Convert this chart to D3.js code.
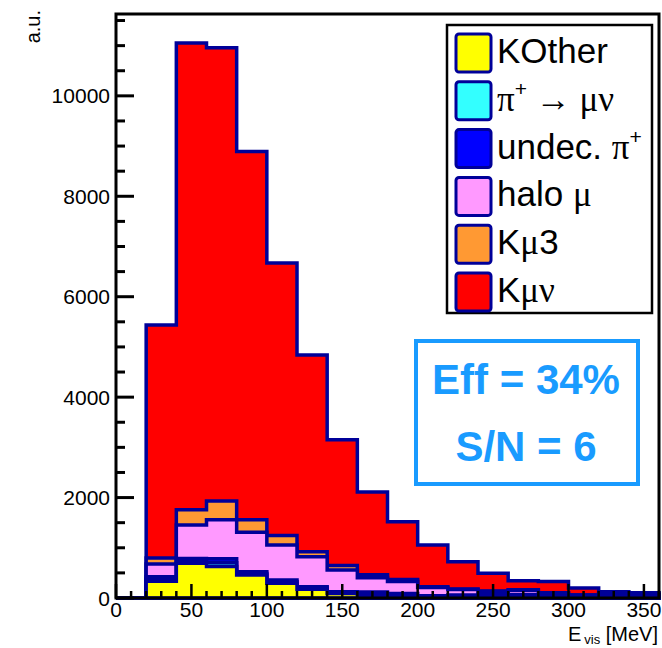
<!DOCTYPE html>
<html>
<head>
<meta charset="utf-8">
<script src="https://cdn.jsdelivr.net/npm/d3@7"></script>
<style>
  body { margin: 0; background: #fff; }
  svg { display: block; }
</style>
</head>
<body>
<svg id="chart" width="662" height="648"></svg>
<script>
// Visible-energy spectrum, 20 MeV bins, stacked by event category
const binLow = [0, 20, 40, 60, 80, 100, 120, 140, 160, 180, 200, 220, 240, 260, 280, 300, 320, 340];
const binWidth = 20;

const kOther  = [0, 334, 692, 626, 459, 294, 174, 90, 25, 8, 3, 3, 3, 2, 2, 1, 1, 1];
const piMuNu  = [0, 45, 48, 78, 30, 30, 25, 15, 40, 35, 20, 25, 30, 30, 25, 20, 25, 25];
const undecPi = [0, 44, 48, 78, 33, 33, 25, 20, 55, 49, 22, 30, 37, 38, 30, 25, 30, 30];
const haloMu  = [0, 253, 664, 774, 788, 700, 598, 435, 281, 235, 162, 113, 60, 85, 43, 12, 20, 15];
const kMu3    = [0, 120, 306, 378, 246, 186, 100, 85, 64, 43, 17, 7, 9, 10, 5, 2, 4, 4];
const kMuNu   = [0, 4643, 9295, 9026, 7334, 5427, 3918, 2505, 1645, 1150, 831, 545, 353, 180, 224, 140, 45, 30];

const seriesKeys   = ["kOther", "piMuNu", "undecPi", "haloMu", "kMu3", "kMuNu"];
const seriesColors = ["#ffff00", "#33ffff", "#0000ff", "#ff99ff", "#ff9933", "#ff0000"];

const xTickLabels = [0, 50, 100, 150, 200, 250, 300, 350];
const yTickLabels = [0, 2000, 4000, 6000, 8000, 10000];

const effText = "Eff = 34%";
const snText  = "S/N = 6";

const FONT = "'Liberation Sans', Arial, Helvetica, sans-serif";
const GREEK = "'Liberation Serif', 'DejaVu Serif', serif";
const OUTLINE = "#000099";
const INFO = "#199bff";

const svg = d3.select("#chart");

const x = d3.scaleLinear().domain([0, 360]).range([116, 659]);
const y = d3.scaleLinear().domain([0, 11630]).range([598, 14]);

// Stack the categories bin by bin
const rows = binLow.map((lo, i) => ({
  lo,
  kOther: kOther[i], piMuNu: piMuNu[i], undecPi: undecPi[i],
  haloMu: haloMu[i], kMu3: kMu3[i], kMuNu: kMuNu[i]
}));
const layers = d3.stack().keys(seriesKeys)(rows);

const line = d3.line();

// Each cumulative histogram is drawn from zero, topmost first
const plot = svg.append("g");
layers.slice().reverse().forEach(layer => {
  const pts = [[x(0), y(0)]];
  layer.forEach(d => {
    pts.push([x(d.data.lo), y(d[1])]);
    pts.push([x(d.data.lo + binWidth), y(d[1])]);
  });
  pts.push([x(360), y(0)]);
  plot.append("path")
    .attr("d", line(pts) + "Z")
    .attr("fill", seriesColors[layer.index])
    .attr("stroke", OUTLINE)
    .attr("stroke-width", 3.5)
    .attr("stroke-linejoin", "miter");
});

// Frame
svg.append("rect")
  .attr("x", x(0)).attr("y", y.range()[1])
  .attr("width", x(360) - x(0)).attr("height", y(0) - y.range()[1])
  .attr("fill", "none").attr("stroke", "#000").attr("stroke-width", 3);

// X axis: ticks every 10, labelled every 50, pointing inward
const xAxis = svg.append("g");
d3.range(0, 361, 10).forEach(v => {
  const major = v % 50 === 0;
  xAxis.append("line")
    .attr("x1", x(v)).attr("x2", x(v))
    .attr("y1", y(0)).attr("y2", y(0) - (major ? 14 : 7))
    .attr("stroke", "#000").attr("stroke-width", 2.5);
});
xAxis.selectAll("text.xl").data(xTickLabels).join("text")
  .attr("class", "xl")
  .attr("x", d => x(d)).attr("y", 617)
  .attr("text-anchor", "middle")
  .attr("font-family", FONT).attr("font-size", 21)
  .text(d => d);

// Y axis: ticks every 500, labelled every 2000
const yAxis = svg.append("g");
d3.range(0, 11501, 500).forEach(v => {
  const major = v % 2000 === 0;
  yAxis.append("line")
    .attr("x1", x(0)).attr("x2", x(0) + (major ? 18 : 9))
    .attr("y1", y(v)).attr("y2", y(v))
    .attr("stroke", "#000").attr("stroke-width", 3);
});
yAxis.selectAll("text.yl").data(yTickLabels).join("text")
  .attr("class", "yl")
  .attr("x", 110).attr("y", d => y(d))
  .attr("dy", "0.36em")
  .attr("text-anchor", "end")
  .attr("font-family", FONT).attr("font-size", 21)
  .text(d => d);

// Axis titles
svg.append("text")
  .attr("transform", "translate(40,10) rotate(-90)")
  .attr("text-anchor", "end")
  .attr("font-family", FONT).attr("font-size", 20)
  .text("a.u.");

const xt = svg.append("text")
  .attr("x", 658).attr("y", 641)
  .attr("text-anchor", "end")
  .attr("font-family", FONT).attr("font-size", 20);
xt.append("tspan").text("E");
xt.append("tspan").attr("font-size", 13).attr("dy", 3).attr("dx", 3).text("vis");
xt.append("tspan").attr("dy", -3).text(" [MeV]");

// Legend
const legend = svg.append("g");
legend.append("rect")
  .attr("x", 447).attr("y", 25).attr("width", 205).attr("height", 288)
  .attr("fill", "#fff").attr("stroke", "#000").attr("stroke-width", 2.5);

const legendLabels = [
  [["KOther"]],
  [["π", "g"], ["+", "sup"], [" → ", "g"], ["μν", "g"]],
  [["undec. "], ["π", "g"], ["+", "sup"]],
  [["halo "], ["μ", "g"]],
  [["K"], ["μ", "g"], ["3"]],
  [["K"], ["μν", "g"]]
];

legendLabels.forEach((parts, i) => {
  const cy = 53 + i * 47.8;
  legend.append("rect")
    .attr("x", 456).attr("y", cy - 19).attr("width", 35).attr("height", 38)
    .attr("rx", 3).attr("ry", 3)
    .attr("fill", seriesColors[i]).attr("stroke", OUTLINE).attr("stroke-width", 3);
  const t = legend.append("text")
    .attr("x", 497).attr("y", cy + 10)
    .attr("font-family", FONT).attr("font-size", 35);
  let raised = false;
  parts.forEach(([s, kind]) => {
    const ts = t.append("tspan").text(s);
    if (kind === "g") ts.attr("font-family", GREEK);
    if (kind === "sup") {
      ts.attr("font-size", 21).attr("dy", -15);
      raised = true;
    } else if (raised) {
      ts.attr("dy", 15);
      raised = false;
    }
  });
});

// Efficiency / signal-to-noise box
svg.append("rect")
  .attr("x", 416).attr("y", 341).attr("width", 222).attr("height", 143)
  .attr("fill", "#fff").attr("stroke", INFO).attr("stroke-width", 4);
svg.append("text")
  .attr("x", 526).attr("y", 394)
  .attr("text-anchor", "middle")
  .attr("font-family", FONT).attr("font-weight", "bold").attr("font-size", 42)
  .attr("fill", INFO)
  .text(effText);
svg.append("text")
  .attr("x", 526).attr("y", 461)
  .attr("text-anchor", "middle")
  .attr("font-family", FONT).attr("font-weight", "bold").attr("font-size", 42)
  .attr("fill", INFO)
  .text(snText);
</script>
</body>
</html>
